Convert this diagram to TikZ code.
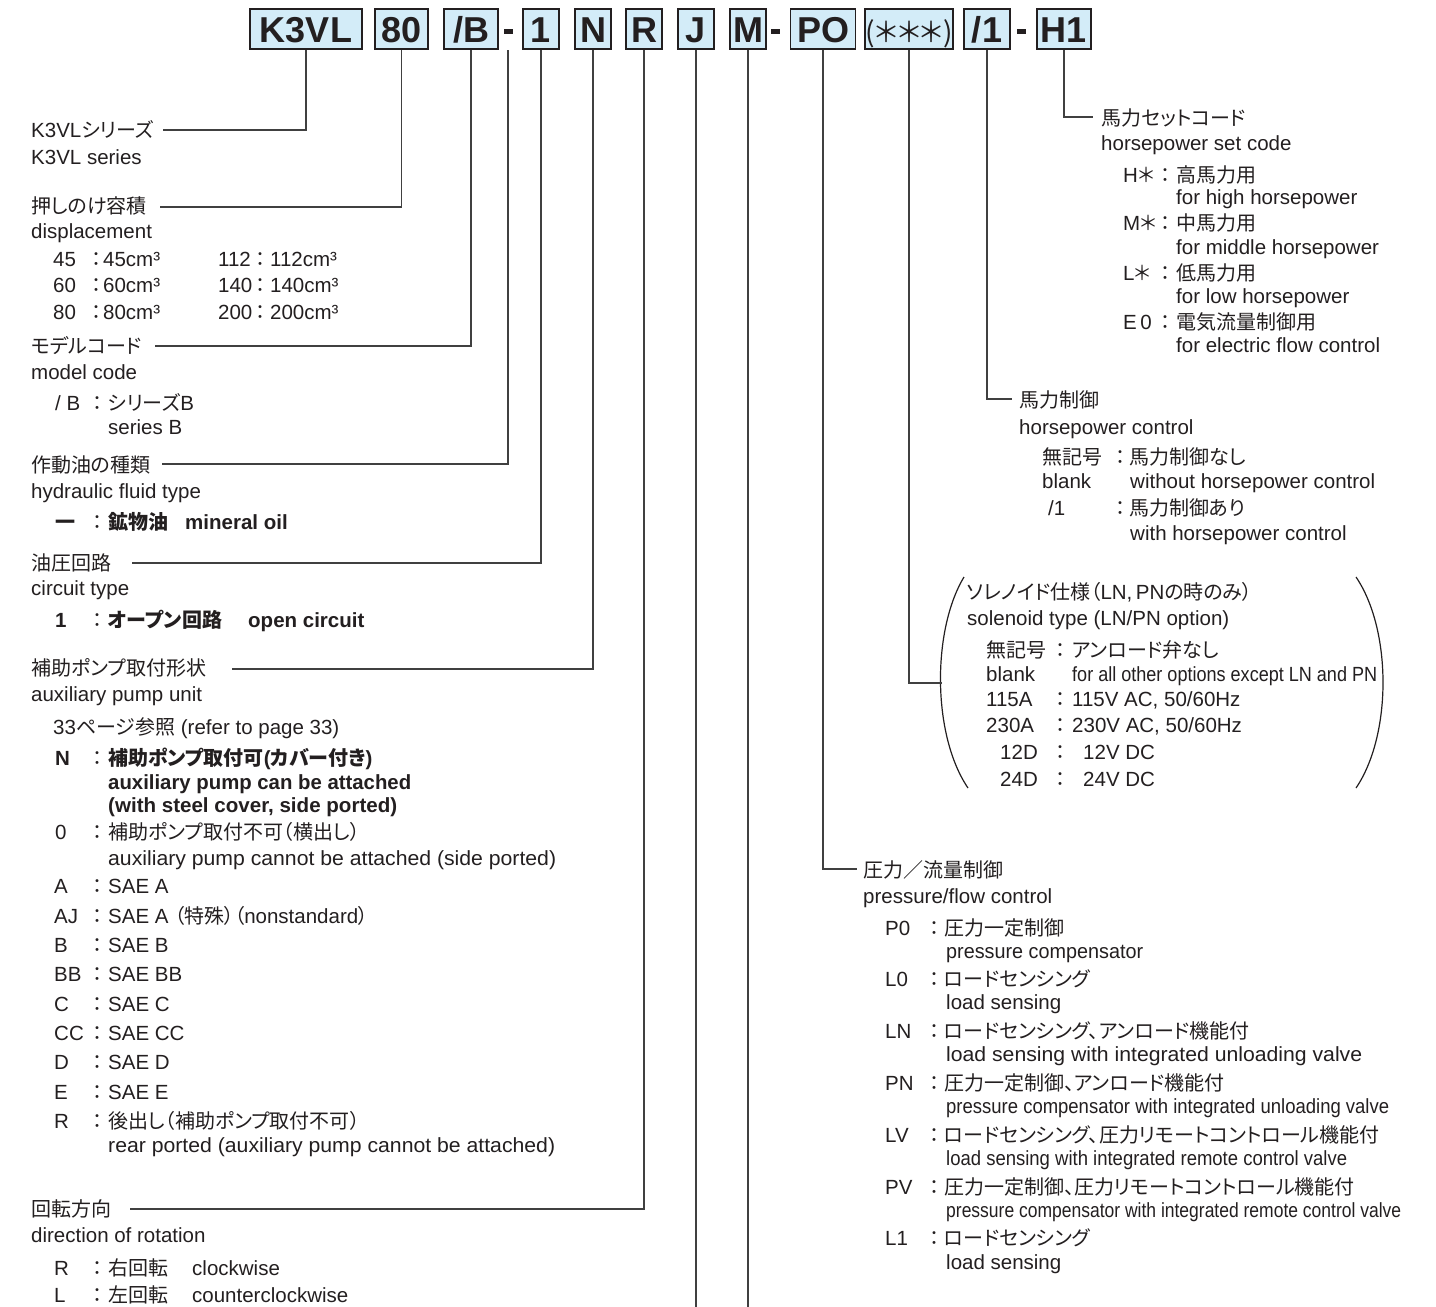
\documentclass[tikz,border=0pt]{standalone}
\usepackage{fontspec}
\usepackage{graphicx}
\setmainfont{Liberation Sans}
\newfontfamily\jpf[RawFeature=+palt]{Noto Sans CJK JP}
\newcommand\J[1]{{\jpf\fontsize{20}{24}\selectfont #1}}
\newlength\sqzl
\newcommand\sqz[2]{\settowidth\sqzl{#2}\pgfmathsetmacro\sqzf{#1/\sqzl}\scalebox{\sqzf}[1]{#2}}
\definecolor{ink}{HTML}{231F20}
\definecolor{boxfill}{HTML}{D3ECF8}
\definecolor{lne}{HTML}{404040}
% name, baseline y, code x, code, colon x, desc x, desc
\newcommand\orow[7]{%
  \node[txt] (#1a) at (#3,#2) {#4};
  \node[txt,anchor=base] (#1b) at (#5,#2) {\J{：}};
  \node[txt] (#1c) at (#6,#2) {#7};}
\begin{document}
\begin{tikzpicture}[x=1pt,y=-1pt,
  txt/.style={anchor=base west,inner sep=0pt,text=ink,font=\fontsize{20.5}{24}\selectfont},
  cbox/.style={draw=ink,line width=1.5pt,fill=boxfill,minimum height=40pt,inner sep=0pt,
     text height=26pt,text depth=0pt,text=ink,font=\fontsize{36}{36}\selectfont\bfseries},
  dsh/.style={fill=ink,minimum width=9pt,minimum height=5pt,inner sep=0pt},
  conn/.style={draw=lne,line width=1.1pt},
  paren/.style={draw=ink,line width=1.2pt}]
\useasboundingbox (0,0) rectangle (1436,1307);
\fill[white] (0,0) rectangle (1436,1307);

% ---- code boxes ----
\node[cbox,minimum width=112pt] (bK) at (306,29) {K3VL};
\node[cbox,minimum width=53pt] (b80) at (401.5,29) {80};
\node[cbox,minimum width=54pt] (bB) at (471,29) {/B};
\node[dsh] (d1) at (508,31) {};
\node[cbox,minimum width=36pt] (b1) at (541,29) {1};
\node[cbox,minimum width=36pt] (bN) at (593,29) {N};
\node[cbox,minimum width=36pt] (bR) at (644,29) {R};
\node[cbox,minimum width=36pt] (bJ) at (696,29) {J};
\node[cbox,minimum width=36pt] (bM) at (748,29) {M};
\node[dsh] (d2) at (775,31) {};
\node[cbox,minimum width=65pt] (bP) at (823,29) {PO};
\node[cbox,minimum width=83pt,font=\fontsize{28}{28}\selectfont] (bS) at (909,29) {\jpf(＊＊＊)};
\node[cbox,minimum width=46pt] (b1h) at (987,29) {/1};
\node[dsh] (d3) at (1021,31) {};
\node[cbox,minimum width=54pt] (bH) at (1064,29) {H1};

% ---- left: series ----
\node[txt] (h1) at (31,137) {K3VL\J{シリーズ}};
\node[txt] (h1e) at (31,164) {K3VL series};
\coordinate (c1) at (163,130);
\draw[conn] (bK.south) |- (c1);

% ---- displacement ----
\node[txt] (h2) at (31,213) {\J{押しのけ容積}};
\node[txt] (h2e) at (31,238) {displacement};
\coordinate (c2) at (160,207);
\draw[conn] (b80.south) |- (c2);
\orow{dA}{266}{53}{45}{96}{103}{45cm³}
\orow{dB}{292}{53}{60}{96}{103}{60cm³}
\orow{dC}{319}{53}{80}{96}{103}{80cm³}
\orow{dD}{266}{218}{112}{260}{270}{112cm³}
\orow{dE}{292}{218}{140}{260}{270}{140cm³}
\orow{dF}{319}{218}{200}{260}{270}{200cm³}

% ---- model code ----
\node[txt] (h3) at (31,353) {\J{モデルコード}};
\node[txt] (h3e) at (31,379) {model code};
\coordinate (c3) at (155,346);
\draw[conn] (bB.south) |- (c3);
\orow{mB}{410}{55}{/ B}{97}{108}{\J{シリーズ}B}
\node[txt] (mBe) at (108,434) {series B};

% ---- fluid ----
\node[txt] (h4) at (31,472) {\J{作動油の種類}};
\node[txt] (h4e) at (31,498) {hydraulic fluid type};
\coordinate (c4t) at (508,50);
\coordinate (c4) at (162,464);
\draw[conn] (c4t) |- (c4);
\orow{fl}{529}{55}{\bfseries\J{一}}{97}{108}{\bfseries\J{鉱物油}}
\node[txt,font=\fontsize{20.5}{24}\selectfont\bfseries] (fle) at (185,529) {mineral oil};

% ---- circuit ----
\node[txt] (h5) at (31,570) {\J{油圧回路}};
\node[txt] (h5e) at (31,595) {circuit type};
\coordinate (c5) at (132,563);
\draw[conn] (b1.south) |- (c5);
\orow{ci}{627}{55}{\bfseries 1}{97}{108}{\bfseries\J{オープン回路}}
\node[txt,font=\fontsize{20.5}{24}\selectfont\bfseries] (cie) at (248,627) {open circuit};

% ---- auxiliary pump ----
\node[txt] (h6) at (31,675) {\J{補助ポンプ取付形状}};
\node[txt] (h6e) at (31,701) {auxiliary pump unit};
\coordinate (c6) at (232,669);
\draw[conn] (bN.south) |- (c6);
\node[txt] (ref) at (53,734) {33\J{ページ参照} (refer to page 33)};
\orow{aN}{765}{55}{\bfseries N}{97}{108}{\bfseries\J{補助ポンプ取付可}(\J{カバー付き})}
\node[txt,font=\fontsize{20.5}{24}\selectfont\bfseries] (aN2) at (108,789) {\sqz{303}{auxiliary pump can be attached}};
\node[txt,font=\fontsize{20.5}{24}\selectfont\bfseries] (aN3) at (108,812) {\sqz{289}{(with steel cover, side ported)}};
\orow{a0}{839}{55}{0}{97}{108}{\J{補助ポンプ取付不可（横出し）}}
\node[txt] (a02) at (108,865) {\sqz{448}{auxiliary pump cannot be attached (side ported)}};
\orow{aA}{893}{54}{A}{97}{108}{SAE A}
\orow{aAJ}{923}{54}{AJ}{97}{108}{SAE A \J{（特殊）（}nonstandard\J{）}}
\orow{aB}{952}{54}{B}{97}{108}{SAE B}
\orow{aBB}{981}{54}{BB}{97}{108}{SAE BB}
\orow{aC}{1011}{54}{C}{97}{108}{SAE C}
\orow{aCC}{1040}{54}{CC}{97}{108}{SAE CC}
\orow{aD}{1069}{54}{D}{97}{108}{SAE D}
\orow{aE}{1099}{54}{E}{97}{108}{SAE E}
\orow{aR}{1128}{54}{R}{97}{108}{\J{後出し（補助ポンプ取付不可）}}
\node[txt] (aR2) at (108,1152) {\sqz{447}{rear ported (auxiliary pump cannot be attached)}};

% ---- rotation ----
\node[txt] (h7) at (31,1216) {\J{回転方向}};
\node[txt] (h7e) at (31,1242) {direction of rotation};
\coordinate (c7) at (130,1209);
\draw[conn] (bR.south) |- (c7);
\orow{rR}{1275}{54}{R}{97}{108}{\J{右回転}}
\node[txt] (rR2) at (192,1275) {clockwise};
\orow{rL}{1302}{54}{L}{97}{108}{\J{左回転}}
\node[txt] (rL2) at (192,1302) {counterclockwise};

% ---- J, M lines to bottom ----
\coordinate (eJ) at (696,1307);
\coordinate (eM) at (748,1307);
\draw[conn] (bJ.south) -- (bJ.south |- eJ);
\draw[conn] (bM.south) -- (bM.south |- eM);

% ---- horsepower set code ----
\node[txt] (t1) at (1101,125) {\J{馬力セットコード}};
\node[txt] (t1e) at (1101,150) {horsepower set code};
\coordinate (c8) at (1093,117);
\draw[conn] (bH.south) |- (c8);
\orow{hH}{182}{1123}{H\J{＊}}{1165}{1176}{\J{高馬力用}}
\node[txt] (hH2) at (1176,204) {for high horsepower};
\orow{hM}{230}{1123}{M\J{＊}}{1165}{1176}{\J{中馬力用}}
\node[txt] (hM2) at (1176,254) {for middle horsepower};
\orow{hL}{280}{1123}{L\J{＊}}{1165}{1176}{\J{低馬力用}}
\node[txt] (hL2) at (1176,303) {for low horsepower};
\orow{hE}{329}{1123}{E\,0}{1165}{1176}{\J{電気流量制御用}}
\node[txt] (hE2) at (1176,352) {for electric flow control};

% ---- horsepower control ----
\node[txt] (t2) at (1019,407) {\J{馬力制御}};
\node[txt] (t2e) at (1019,434) {horsepower control};
\coordinate (c9) at (1012,399);
\draw[conn] (b1h.south) |- (c9);
\orow{pB}{464}{1042}{\J{無記号}}{1120}{1129}{\J{馬力制御なし}}
\node[txt] (pB2) at (1042,488) {blank};
\node[txt] (pB3) at (1130,488) {without horsepower control};
\orow{p1}{515}{1048}{/1}{1120}{1129}{\J{馬力制御あり}}
\node[txt] (p12) at (1130,540) {with horsepower control};

% ---- solenoid ----
\coordinate (pl1) at (964,577);
\coordinate (pl2) at (968,788);
\coordinate (pr1) at (1356,577);
\coordinate (pr2) at (1356,788);
\draw[paren] (pl1) .. controls (932,630) and (932,735) .. (pl2);
\draw[paren] (pr1) .. controls (1392,630) and (1392,735) .. (pr2);
\coordinate (c10) at (942,683);
\draw[conn] (bS.south) |- (c10);
\node[txt] (t3) at (967,599) {\J{ソレノイド仕様（}LN,\,PN\J{の時のみ）}};
\node[txt] (t3e) at (967,625) {solenoid type (LN/PN option)};
\orow{sB}{657}{986}{\J{無記号}}{1060}{1072}{\J{アンロード弁なし}}
\node[txt] (sB2) at (986,681) {blank};
\node[txt] (sB3) at (1072,681) {\sqz{305}{for all other options except LN and PN}};
\orow{s1}{706}{986}{115A}{1060}{1072}{115V AC, 50/60Hz}
\orow{s2}{732}{986}{230A}{1060}{1072}{230V AC, 50/60Hz}
\orow{s3}{759}{1000}{12D}{1060}{1083}{12V DC}
\orow{s4}{786}{1000}{24D}{1060}{1083}{24V DC}

% ---- pressure / flow ----
\node[txt] (t4) at (863,877) {\J{圧力／流量制御}};
\node[txt] (t4e) at (863,903) {pressure/flow control};
\coordinate (c11) at (857,869);
\draw[conn] (bP.south) |- (c11);
\orow{fP0}{935}{885}{P0}{934}{944}{\J{圧力一定制御}}
\node[txt] (fP02) at (946,958) {\sqz{197}{pressure compensator}};
\orow{fL0}{986}{885}{L0}{934}{944}{\J{ロードセンシング}}
\node[txt] (fL02) at (946,1009) {load sensing};
\orow{fLN}{1038}{885}{LN}{934}{944}{\J{ロードセンシング、アンロード機能付}}
\node[txt] (fLN2) at (946,1061) {\sqz{416}{load sensing with integrated unloading valve}};
\orow{fPN}{1090}{885}{PN}{934}{944}{\J{圧力一定制御、アンロード機能付}}
\node[txt] (fPN2) at (946,1113) {\sqz{443}{pressure compensator with integrated unloading valve}};
\orow{fLV}{1142}{885}{LV}{934}{944}{\J{ロードセンシング、圧力リモートコントロール機能付}}
\node[txt] (fLV2) at (946,1165) {\sqz{401}{load sensing with integrated remote control valve}};
\orow{fPV}{1194}{885}{PV}{934}{944}{\J{圧力一定制御、圧力リモートコントロール機能付}}
\node[txt] (fPV2) at (946,1217) {\sqz{455}{pressure compensator with integrated remote control valve}};
\orow{fL1}{1245}{885}{L1}{934}{944}{\J{ロードセンシング}}
\node[txt] (fL12) at (946,1269) {load sensing};
\end{tikzpicture}
\end{document}
